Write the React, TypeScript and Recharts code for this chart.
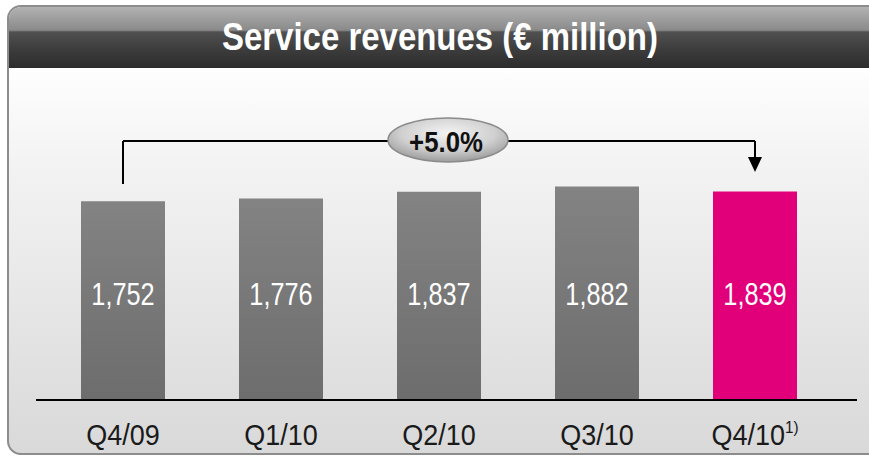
import React from 'react';
import { BarChart, Bar, XAxis, YAxis, LabelList, Cell, ReferenceLine, ReferenceDot } from 'recharts';

const quarters = ['Q4/09', 'Q1/10', 'Q2/10', 'Q3/10', 'Q4/10'];
const footnotes = ['', '', '', '', '1)'];
const revenues = [1752, 1776, 1837, 1882, 1839];
const growthLabel = '+5.0%';

const data = quarters.map((q, i) => ({ quarter: q, value: revenues[i], note: footnotes[i] }));

// no narrow font installed, so Liberation Sans gets squeezed horizontally
const FONT = '"Liberation Sans", Arial, sans-serif';

// bracket levels in data units
const bracketTop = 2287;
const bracketLeftFoot = 1906;
const arrowTip = 2012;

const QuarterTick = ({ x, y, payload, index }: any) => (
  <text
    transform={`translate(${x},${y + 38}) scale(0.9,1)`}
    textAnchor="middle"
    fontFamily={FONT}
    fontSize={30}
    fill="#1a1a1a"
  >
    {payload.value}
    {footnotes[index] && (
      <tspan fontSize={17} dy={-12}>{footnotes[index]}</tspan>
    )}
  </text>
);

const ValueLabel = ({ x, y, width, height, value }: any) => (
  <text
    transform={`translate(${x + width / 2},${y + height - 94}) scale(0.79,1)`}
    textAnchor="middle"
    fontFamily={FONT}
    fontSize={32}
    fill="#ffffff"
  >
    {Number(value).toLocaleString('en-US')}
  </text>
);

const GrowthBubble = ({ cx, cy }: any) => (
  <g>
    <ellipse cx={cx + 9} cy={cy} rx={60} ry={22} fill="url(#bubbleFill)" stroke="#8a8a8a" strokeWidth={1.5} />
    <text
      transform={`translate(${cx + 7},${cy + 12}) scale(0.86,1)`}
      textAnchor="middle"
      fontFamily={FONT}
      fontWeight="bold"
      fontSize={30}
      fill="#111"
    >
      {growthLabel}
    </text>
  </g>
);

const ArrowHead = ({ cx, cy }: any) => (
  <path d={`M${cx - 7},${cy - 15} L${cx + 7},${cy - 15} L${cx},${cy} Z`} fill="#000" />
);

export default function App() {
  return (
    <div style={{ position: 'absolute', left: 0, top: 0, width: 869, height: 457, background: '#fff', overflow: 'hidden' }}>
      <div
        style={{
          position: 'absolute',
          left: 7,
          top: 5,
          width: 880,
          height: 446,
          border: '2px solid #8c8c8c',
          borderRadius: 14,
          overflow: 'hidden',
          background: 'linear-gradient(#ffffff 12%, #f3f3f3 35%, #d9d9d9 100%)',
        }}
      >
        <div
          style={{
            height: 61,
            background: 'linear-gradient(#b2b2b2 0%, #8a8a8a 38%, #505050 41%, #3c3c3c 70%, #2c2c2c 100%)',
          }}
        />
      </div>
      <div
        style={{
          position: 'absolute',
          left: 0,
          top: 17,
          width: 880,
          textAlign: 'center',
          color: '#fff',
          fontFamily: FONT,
          fontWeight: 'bold',
          fontSize: 39,
          lineHeight: '39px',
          whiteSpace: 'nowrap',
        }}
      >
        <span style={{ display: 'inline-block', transform: 'scaleX(0.845)' }}>Service revenues (€ million)</span>
      </div>
      <div style={{ position: 'absolute', left: 36, top: 399, width: 821, height: 2, background: '#000' }} />
      <div style={{ position: 'absolute', left: 0, top: 0 }}>
        <BarChart width={869} height={457} data={data} margin={{ top: 83, right: 35, left: 44, bottom: 18 }}>
          <defs>
            <linearGradient id="grayBar" x1="0" y1="0" x2="0" y2="1">
              <stop offset="0%" stopColor="#838383" />
              <stop offset="100%" stopColor="#6d6d6d" />
            </linearGradient>
            <radialGradient id="bubbleFill" cx="50%" cy="35%" r="65%">
              <stop offset="0%" stopColor="#f4f4f4" />
              <stop offset="60%" stopColor="#d0d0d0" />
              <stop offset="100%" stopColor="#9c9c9c" />
            </radialGradient>
          </defs>
          <XAxis dataKey="quarter" axisLine={false} tickLine={false} height={40} tick={<QuarterTick />} interval={0} />
          <YAxis hide domain={[0, 2800]} />
          <Bar dataKey="value" barSize={84} isAnimationActive={false}>
            {data.map((d, i) => (
              <Cell key={d.quarter} fill={i === data.length - 1 ? '#e2007a' : 'url(#grayBar)'} />
            ))}
            <LabelList dataKey="value" content={<ValueLabel />} />
          </Bar>
          <ReferenceLine
            segment={[{ x: quarters[0], y: bracketLeftFoot }, { x: quarters[0], y: bracketTop }]}
            stroke="#000"
            strokeWidth={2}
          />
          <ReferenceLine
            segment={[{ x: quarters[0], y: bracketTop }, { x: quarters[4], y: bracketTop }]}
            stroke="#000"
            strokeWidth={2}
          />
          <ReferenceLine
            segment={[{ x: quarters[4], y: bracketTop }, { x: quarters[4], y: arrowTip + 100 }]}
            stroke="#000"
            strokeWidth={2}
          />
          <ReferenceDot x={quarters[4]} y={arrowTip} shape={<ArrowHead />} />
          <ReferenceDot x={quarters[2]} y={2296} shape={<GrowthBubble />} />
        </BarChart>
      </div>
    </div>
  );
}
